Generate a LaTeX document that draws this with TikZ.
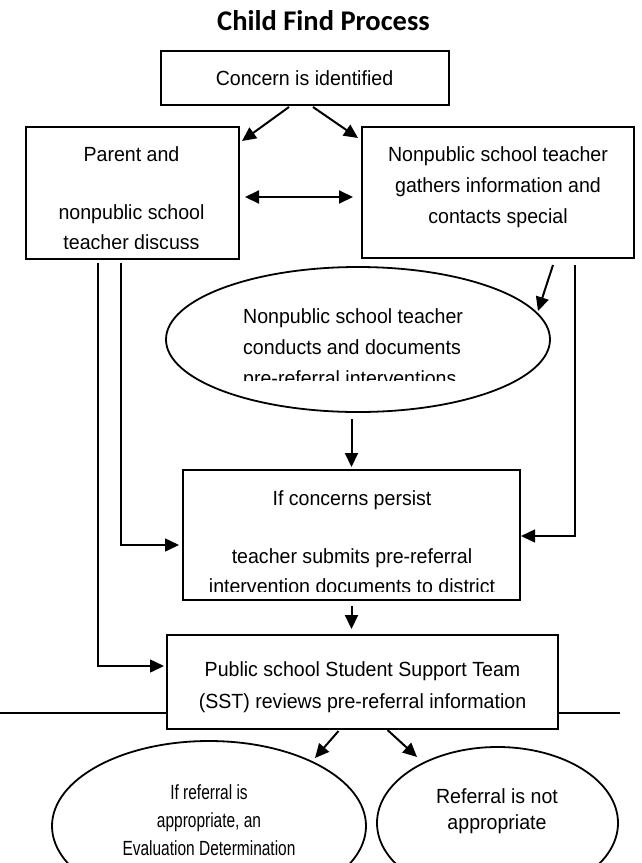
\documentclass[tikz,border=0pt]{standalone}
\usepackage{fontspec}
\setmainfont[FakeStretch=0.955]{Liberation Sans}
\newfontfamily\titlefont{Carlito}
\newfontfamily\narrowfont[FakeStretch=0.755]{Liberation Sans}
\usetikzlibrary{arrows.meta,calc,shapes.geometric}

\tikzset{
  rectbox/.style={draw, line width=2pt, fill=white, inner sep=0pt, outer sep=0pt},
  ovalbox/.style={ellipse, draw, line width=1.8pt, fill=white, inner sep=0pt, outer sep=0pt},
  txt/.style={font=\fontsize{20.5}{24}\selectfont, inner sep=0pt, anchor=base},
  narrowtxt/.style={font=\narrowfont\fontsize{20.5}{24}\selectfont, inner sep=0pt, anchor=base},
  titletxt/.style={font=\titlefont\bfseries\fontsize{28.5}{32}\selectfont, inner sep=0pt, anchor=base},
  tip/.tip={Triangle[length=14pt,width=13pt]},
  arrowline/.style={line width=2pt, -tip},
  wire/.style={line width=1.5pt, -tip},
  rule/.style={line width=1.6pt},
}

\begin{document}
\begin{tikzpicture}[x=1pt,y=-1pt]
\useasboundingbox (0,0) rectangle (641,863);
\clip (0,0) rectangle (641,863);
\fill[white] (0,0) rectangle (641,863);

% horizontal rule running behind the SST box
\coordinate (ruleL) at (0,713);
\coordinate (ruleR) at (620,713);
\draw[rule] (ruleL) -- (ruleR);

% heading
\node[titletxt] (title) at (323.5,30) {Child Find Process};

% starting point
\node[rectbox, minimum width=288pt, minimum height=54pt] (concern) at (305,78) {};
\node[txt] (concernT) at (304.5,85) {Concern is identified};

% parent and teacher discussion
\node[rectbox, minimum width=213pt, minimum height=132pt] (parent) at (132.5,193) {};
\begin{scope}
  \clip (parent.north west) rectangle ($(parent.south east)+(0,-11)$);
  \node[txt] (parentA) at (131.5,161) {Parent and};
  \node[txt] (parentB) at (131.5,219) {nonpublic school};
  \node[txt] (parentC) at (131.5,249) {teacher discuss};
\end{scope}

% teacher gathers information
\node[rectbox, minimum width=272pt, minimum height=131pt] (gather) at (498,192.5) {};
\node[txt] (gatherA) at (498,161) {Nonpublic school teacher};
\node[txt] (gatherB) at (498,192) {gathers information and};
\node[txt] (gatherC) at (498,223) {contacts special};

% pre-referral interventions
\node[ovalbox, minimum width=384pt, minimum height=145pt] (conduct) at (358,339.5) {};
\begin{scope}
  \clip ($(conduct.center)+(-200,-80)$) rectangle ($(conduct.center)+(200,40.5)$);
  \node[txt, anchor=base west] (conductA) at (243,323) {Nonpublic school teacher};
  \node[txt, anchor=base west] (conductB) at (243,354) {conducts and documents};
  \node[txt, anchor=base west] (conductC) at (243,385) {pre-referral interventions};
\end{scope}

% concerns persist
\node[rectbox, minimum width=337pt, minimum height=130pt] (persist) at (351.5,535) {};
\begin{scope}
  \clip (persist.north west) rectangle ($(persist.south east)+(0,-9)$);
  \node[txt] (persistA) at (352,505) {If concerns persist};
  \node[txt] (persistB) at (352,563) {teacher submits pre-referral};
  \node[txt] (persistC) at (352,593) {intervention documents to district};
\end{scope}

% student support team
\node[rectbox, minimum width=391pt, minimum height=94pt] (sst) at (362.5,682) {};
\node[txt] (sstA) at (362.5,676) {Public school Student Support Team};
\node[txt] (sstB) at (362.5,708) {(SST) reviews pre-referral information};

% outcomes
\node[ovalbox, minimum width=314pt, minimum height=170pt] (appro) at (209,826) {};
\node[narrowtxt] (approA) at (209,799) {If referral is};
\node[narrowtxt] (approB) at (209,827) {appropriate, an};
\node[narrowtxt] (approC) at (209,855) {Evaluation Determination};

\node[ovalbox, minimum width=241pt, minimum height=152pt] (notappro) at (497.5,823) {};
\node[txt] (notapproA) at (497,803) {Referral is not};
\node[txt] (notapproB) at (497,829) {appropriate};

% connectors
\draw[arrowline] ($(concern.south)+(-16,2)$) -- ($(parent.north east)+(3,14)$);
\draw[arrowline] ($(concern.south)+(8,2)$) -- ($(gather.north west)+(-4,11)$);
\draw[arrowline, tip-tip] ($(parent.east)+(6,4)$) -- ($(gather.west)+(-9,4.5)$);
\draw[arrowline] ($(gather.south)+(55,7)$) -- ($(conduct.center)+(180,-28.5)$);
\draw[arrowline] ($(persist.north |- conduct.south)+(0,7)$) -- ($(persist.north)+(0,-3)$);
\draw[wire] ($(parent.south west)+(72,4)$) |- ($(sst.west)+(-3,-16)$);
\draw[wire] ($(parent.south west)+(95,4)$) |- ($(persist.west)+(-4,10)$);
\draw[wire] ($(gather.south east)+(-59,7)$) |- ($(persist.east)+(1,1)$);
\draw[arrowline] ($(persist.south)+(0,6)$) -- ($(persist.south |- sst.north)+(0,-6)$);
\draw[arrowline] ($(sst.south)+(-24,2)$) -- ($(appro.center)+(106,-68)$);
\draw[arrowline] ($(sst.south)+(25,1)$) -- ($(notappro.center)+(-80.5,-66)$);
\end{tikzpicture}
\end{document}
